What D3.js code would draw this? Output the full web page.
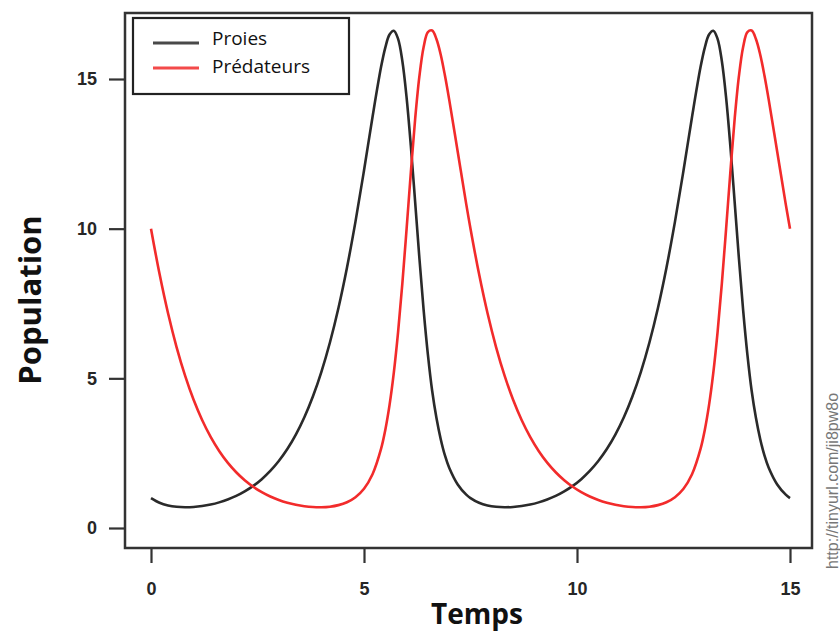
<!DOCTYPE html>
<html><head><meta charset="utf-8">
<script src="https://cdn.jsdelivr.net/npm/d3@7"></script>
<style>body{margin:0;background:#fff}svg{display:block}</style>
</head><body>
<svg id="chart" width="840" height="633"></svg>
<script>
const time = [0,0.2,0.4,0.6,0.8,1.0,1.2,1.4,1.6,1.8,2.0,2.2,2.4,2.6,2.8,3.0,3.2,3.4,3.6,3.8,4.0,4.2,4.4,4.6,4.8,5.0,5.2,5.4,5.5,5.6,5.7,5.8,5.9,6.0,6.1,6.2,6.3,6.4,6.5,6.6,6.7,6.8,6.9,7.0,7.2,7.4,
  7.5,7.7,7.9,8.1,8.3,8.5,8.7,8.9,9.1,9.3,9.5,9.7,9.9,10.1,10.3,10.5,10.7,10.9,11.1,11.3,11.5,11.7,11.9,12.1,12.3,12.5,12.7,12.9,13.0,13.1,13.2,13.3,13.4,13.5,13.6,13.7,13.8,13.9,14.0,14.1,14.2,14.3,14.4,14.5,14.7,14.9,15.0];
const proies = [1.000,0.844,0.754,0.708,0.693,0.702,0.733,0.784,0.856,0.951,1.071,1.222,1.406,1.632,1.906,2.237,2.637,3.119,3.698,4.391,5.217,6.198,7.352,8.697,10.235,11.943,13.733,15.397,16.050,16.485,16.613,16.341,15.600,14.380,12.760,10.906,9.020,7.282,5.793,4.584,3.680,2.976,2.424,2.013,1.454,1.113,
  1.000,0.844,0.754,0.708,0.693,0.702,0.733,0.784,0.856,0.951,1.071,1.222,1.406,1.632,1.906,2.237,2.637,3.119,3.698,4.391,5.217,6.198,7.352,8.697,10.235,11.943,13.733,15.397,16.050,16.485,16.613,16.341,15.600,14.380,12.760,10.906,9.020,7.282,5.793,4.584,3.680,2.976,2.424,2.013,1.454,1.113,1.000];
const predateurs = [10.000,8.490,7.172,6.045,5.088,4.283,3.608,3.044,2.575,2.185,1.863,1.596,1.377,1.198,1.052,0.935,0.844,0.775,0.727,0.699,0.693,0.712,0.764,0.861,1.029,1.312,1.797,2.643,3.278,4.112,5.188,6.540,8.164,9.994,11.888,13.652,15.086,16.070,16.567,16.620,16.336,15.820,15.115,14.310,12.570,10.820,
  10.000,8.490,7.172,6.045,5.088,4.283,3.608,3.044,2.575,2.185,1.863,1.596,1.377,1.198,1.052,0.935,0.844,0.775,0.727,0.699,0.693,0.712,0.764,0.861,1.029,1.312,1.797,2.643,3.278,4.112,5.188,6.540,8.164,9.994,11.888,13.652,15.086,16.070,16.567,16.620,16.336,15.820,15.115,14.310,12.570,10.820,10.000];
const xTicks = [0,5,10,15];
const yTicks = [0,5,10,15];
const seriesNames = ["Proies","Prédateurs"];
const seriesColors = ["#2a2a2a","#f22b2b"];
const xTitle = "Temps";
const yTitle = "Population";
const sourceText = "http://tinyurl.com/ji8pw8o";

const svg = d3.select("#chart");
const box = {left:125, right:812, top:13, bottom:548};
const x = d3.scaleLinear().domain([0,15]).range([151,790]);
const y = d3.scaleLinear().domain([0,15]).range([528,79]);

const series = [proies, predateurs];
svg.append("clipPath").attr("id","plotclip").append("rect")
  .attr("x",box.left).attr("y",box.top).attr("width",box.right-box.left).attr("height",box.bottom-box.top);

const line = d3.line().x(d=>x(d[0])).y(d=>y(d[1])).curve(d3.curveCatmullRom.alpha(0.5));
series.forEach((vals,i)=>{
  svg.append("path")
    .datum(time.map((t,j)=>[t, vals[j]]))
    .attr("clip-path","url(#plotclip)")
    .attr("fill","none").attr("stroke",seriesColors[i]).attr("stroke-width",2.6)
    .attr("stroke-linejoin","round").attr("d",line);
});

// box
svg.append("rect").attr("x",box.left).attr("y",box.top)
  .attr("width",box.right-box.left).attr("height",box.bottom-box.top)
  .attr("fill","none").attr("stroke","#333").attr("stroke-width",2.5);

// axes
const xAxis = svg.append("g").attr("transform",`translate(0,${box.bottom})`)
  .call(d3.axisBottom(x).tickValues(xTicks).tickSize(15).tickPadding(19).tickFormat(d3.format("d")));
xAxis.select(".domain").remove();
xAxis.selectAll(".tick line").attr("stroke","#333").attr("stroke-width",2.2);
xAxis.selectAll(".tick text").attr("font-family","Liberation Sans, Arial, sans-serif")
  .attr("font-weight","bold").attr("font-size",18).attr("fill","#262626");

const yAxis = svg.append("g").attr("transform",`translate(${box.left},0)`)
  .call(d3.axisLeft(y).tickValues(yTicks).tickSize(16).tickPadding(12).tickFormat(d3.format("d")));
yAxis.select(".domain").remove();
yAxis.selectAll(".tick line").attr("stroke","#333").attr("stroke-width",2.2);
yAxis.selectAll(".tick text").attr("font-family","Liberation Sans, Arial, sans-serif")
  .attr("font-weight","bold").attr("font-size",18).attr("fill","#262626");

// titles
svg.append("text").attr("x",477).attr("y",624).attr("text-anchor","middle")
  .attr("font-family","Open Sans, sans-serif").attr("font-weight","bold").attr("font-size",28)
  .attr("fill","#111").text(xTitle);
svg.append("text").attr("transform","translate(41,300) rotate(-90)").attr("text-anchor","middle")
  .attr("font-family","Open Sans, sans-serif").attr("font-weight","bold").attr("font-size",31)
  .attr("fill","#111").text(yTitle);

// legend
const lg = svg.append("g");
lg.append("rect").attr("x",133).attr("y",18).attr("width",216).attr("height",76)
  .attr("fill","#fff").attr("stroke","#222").attr("stroke-width",2.2);
seriesNames.forEach((name,i)=>{
  const ly = 43 + i*25;
  lg.append("line").attr("x1",153).attr("x2",199).attr("y1",ly).attr("y2",ly)
    .attr("stroke",seriesColors[i]).attr("stroke-width",3).attr("opacity",0.85);
  lg.append("text").attr("x",212).attr("y",ly + 2 + i*3)
    .attr("font-family","Open Sans, sans-serif").attr("font-size",19).attr("fill","#111").text(name);
});

// source
svg.append("text").attr("transform","translate(838,569) rotate(-90)").attr("text-anchor","start")
  .attr("font-family","Liberation Sans, Arial, sans-serif").attr("font-size",16).attr("fill","#777").text(sourceText);
</script>
</body></html>
